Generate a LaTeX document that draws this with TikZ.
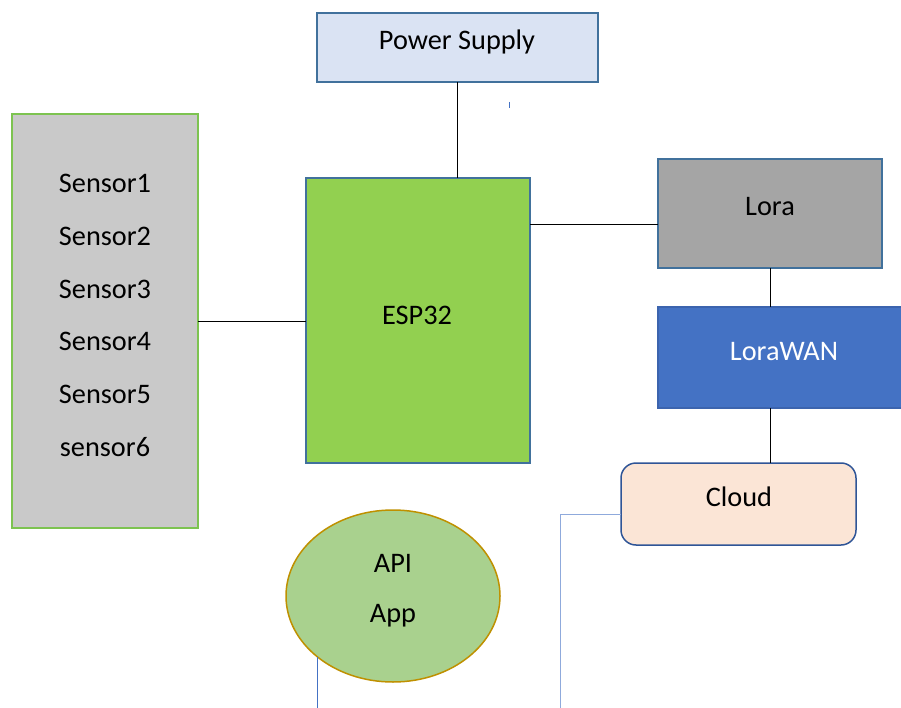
\documentclass[tikz,border=0pt]{standalone}
\usepackage{fontspec}
\setmainfont{Carlito}
\usetikzlibrary{shapes.geometric}
\definecolor{psfill}{HTML}{DAE3F3}
\definecolor{bordblue}{HTML}{41719C}
\definecolor{espfill}{HTML}{92D050}
\definecolor{sensfill}{HTML}{C9C9C9}
\definecolor{sensbord}{HTML}{7DC350}
\definecolor{lorafill}{HTML}{A5A5A5}
\definecolor{wanfill}{HTML}{4472C4}
\definecolor{wanbord}{HTML}{3C64AE}
\definecolor{cloudfill}{HTML}{FBE5D6}
\definecolor{cloudbord}{HTML}{2F5597}
\definecolor{apifill}{HTML}{A9D18E}
\definecolor{apibord}{HTML}{BF9000}
\definecolor{lightln}{HTML}{8FAADC}
\definecolor{midln}{HTML}{4472C4}
\begin{document}
\begin{tikzpicture}[x=1pt,y=-1pt,
  every node/.style={font=\fontsize{28.3}{34}\selectfont, inner sep=0pt, outer sep=0pt},
  box/.style={draw=bordblue, line width=1.5pt, anchor=north west},
  conn/.style={draw=black, line width=1pt},
  bluelink/.style={draw=midln, line width=1pt},
]
\useasboundingbox (0,0) rectangle (901,708);
% boxes
\node[box, fill=psfill, minimum width=281pt, minimum height=69pt] (ps) at (317,13) {};
\node at (457,42) {Power Supply};
\node[box, fill=espfill, minimum width=224pt, minimum height=285pt] (esp) at (306,178) {};
\node at (417,315) {ESP32};
\node[box, draw=sensbord, fill=sensfill, minimum width=186pt, minimum height=414pt] (sens) at (12,114) {};
\node at (105,183) {Sensor1};
\node at (105,236) {Sensor2};
\node at (105,289) {Sensor3};
\node at (105,341) {Sensor4};
\node at (105,394) {Sensor5};
\node at (105,447) {sensor6};
\node[box, fill=lorafill, minimum width=224pt, minimum height=109pt] (lora) at (658,159) {};
\node at (770,207) {Lora};
\node[box, draw=wanbord, fill=wanfill, minimum width=253pt, minimum height=101pt] (wan) at (658,307) {};
\node[text=white] at (784,352) {LoraWAN};
\node[box, draw=cloudbord, fill=cloudfill, rounded corners=15pt, minimum width=235pt, minimum height=82pt] (cloud) at (621,463) {};
\node at (739,497) {Cloud};
\node[ellipse, draw=apibord, line width=1.5pt, fill=apifill, minimum width=214pt, minimum height=172pt] (api) at (393,596) {};
\node at (393,563) {API};
\node at (393,616) {App};
% connectors
\draw[conn] (ps.south -| 457,0) -- (esp.north -| 457,0);
\draw[conn] (sens.east |- 0,321) -- (esp.west |- 0,321);
\draw[conn] (esp.east |- 0,225) -- (lora.west |- 0,225);
\draw[conn] (lora.south -| 770,0) -- (wan.north -| 770,0);
\draw[conn] (wan.south -| 770,0) -- (cloud.north -| 770,0);
\coordinate (cloudend) at (560,708);
\draw[draw=lightln, line width=1pt] (cloud.west |- 0,514) -| (cloudend);
\coordinate (apistart) at (317,657);
\coordinate (apiend) at (317,708);
\draw[bluelink] (apistart) -- (apiend);
\coordinate (tick) at (509,102);
\coordinate (tickend) at (509,108);
\draw[bluelink] (tick) -- (tickend);
\end{tikzpicture}
\end{document}
